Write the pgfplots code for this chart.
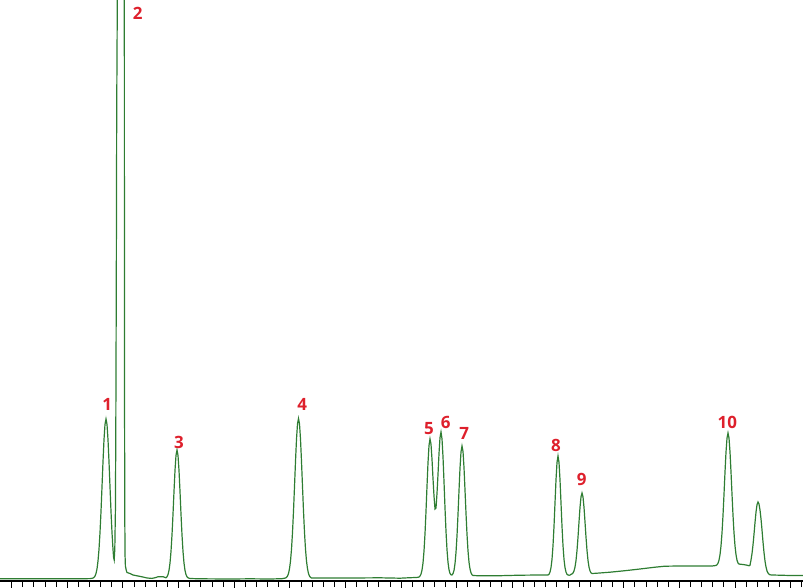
\documentclass[border=0pt]{standalone}
\usepackage{pgfplots}
\pgfplotsset{compat=1.18}
\usepackage{fontspec}
\setmainfont{Open Sans}
\definecolor{trace}{RGB}{46,125,50}
\definecolor{lab}{RGB}{222,32,44}
\begin{document}
\begin{tikzpicture}
\begin{axis}[
 scale only axis, width=803bp, height=581bp,
 at={(0,0)}, anchor=south west,
 xmin=0, xmax=803, ymin=0, ymax=581,
 axis x line=bottom, axis y line=none,
 x axis line style={-, line width=2bp, black},
 xtick={11.7,67.34,122.98,178.62,234.26,289.9,345.54,401.18,456.82,512.46,568.1,623.74,679.38,735.02,790.66},
 xticklabels={}, minor x tick num=4,
 tick align=outside, major tick length=7bp, minor tick length=6bp,
 tick style={black, line width=1bp},
 extra x ticks={801.8}, extra x tick labels={}, extra x tick style={major tick length=6bp},
 ytick=\empty,
 clip bounding box=upper bound,
]
\addplot[trace, line width=1.2bp, mark=none] coordinates {
(0,2.2) (20,2.2) (50,2.3) (80,2.2) (90,2.4) (92,2.7)
(93,3.0) (94,3.6) (95,4.9) (96,7.5) (97,12.1) (98,19.9) (99,31.7) (100,48.4) (101,69.6) (102,94.2) (103,119.3) (104,141.4) (105,156.6) (106,162)
(107,156.6) (108,141.4) (109,119.3) (110,94.2) (111,69.6) (112,48.4) (113,31.7) (113.6,23.5) (114.2,21) (114.8,32) (115.4,70) (115.8,150) (116.3,300) (116.7,470) (117.2,560) (117.3,640) (118,720) (120.5,760) (123,720) (124.3,640) (124.4,400) (124.6,150) (124.8,60) (125.1,24) (125.4,15) (126.2,11) (127,8.5) (130,7.5) (133,6) (138,5) (143,4) (147,3) (152,2.6) (156,3.5) (158,4.3) (163,4.3)
(166,3.2) (167,4.2) (168,6.4) (169,10.6) (170,17.9) (171,29.6) (172,46.1) (173,66.8) (174,89.6) (175,110.6) (176,125.6) (177,131) (178,125.6) (179,110.6) (180,89.6) (181,66.8) (182,46.1) (183,29.6) (184,17.9) (185,10.6) (186,6.4) (187,4.2) (188,3.2) (190,2.5)
(200,2.2) (230,2.0) (250,2.2) (270,2.0) (282,2.3)
(285.5,3.0) (286.5,3.6) (287.5,4.9) (288.5,7.5) (289.5,12.2) (290.5,19.9) (291.5,31.8) (292.5,48.5) (293.5,69.9) (294.5,94.5) (295.5,119.6) (296.5,141.9) (297.5,157.1) (298.5,162.5) (299.5,157.1) (300.5,141.9) (301.5,119.6) (302.5,94.5) (303.5,69.9) (304.5,48.5) (305.5,31.8) (306.5,19.9) (307.5,12.2) (308.5,7.5) (309.5,4.9) (310.5,3.6) (311.5,3.0)
(320,3.0) (350,3.0) (380,3.2) (400,2.8) (410,3.3) (416,3.5)
(418,3.7) (419,4.0) (420,4.9) (421,6.9) (422,10.8) (423,18.0) (424,29.9) (425,47.2) (426,69.7) (427,94.7) (428,118.3) (429,135.5) (430,142.1) (431,136.8) (432,121.8) (433,102.4) (434,84.9) (435,72) (436,73) (437,87.6) (438,106.6) (439,127.5) (440,143.4) (441,149.0) (442,142.2) (443,124.1) (444,99.3) (445,73.1) (446,49.5) (447,31.2) (448,18.7) (449,11.2) (450,7.5) (451,6.2) (452,6.0) (453,7.4) (454,10.5) (455,17.3) (456,28.6) (457,45.2) (458,66.6) (459,90.4) (460,112.9) (461,129.1) (462,135) (463,129.6) (464,113.4) (465,90.9) (466,67.6) (467,46.7) (468,30.1) (469,18.8) (470,12) (471,8.2) (472,6.3) (473,5.5)
(480,5.2) (500,5.3) (520,5.8) (540,6) (547,6)
(548,6.0) (549,6.8) (550,8.9) (551,13.4) (552,21.6) (553,35.3) (554,54.6) (555,78.0) (556,101.2) (557,118.5) (558,125) (559,118.5) (560,101.2) (561,78.0) (562,54.6) (563,35.3) (564,21.6) (565,13.4) (566,8.9) (567,6.8) (568,6.0) (569,5.8) (570,5.9)
(571,6.7) (572,7.1) (573,8.1) (574,10.1) (575,13.9) (576,20.5) (577,30.5) (578,43.8) (579,59.0) (580,73.6) (581,84.1) (582,88) (583,84.1) (584,73.6) (585,59.0) (586,43.8) (587,30.5) (588,20.5) (589,13.9) (590,10.1) (591,8.1) (592,7.5)
(597,7.8) (610,8.8) (625,10.3) (640,12) (655,13.8) (665,14.8) (680,15) (700,15) (712,15) (716,15.5)
(717,16.3) (718,17.8) (719,20.8) (720,26.3) (721,35.1) (722,48.1) (723,65.7) (724,86.7) (725,109.0) (726,129.0) (727,142.9) (728,148) (729,142.9) (730,129) (731,109) (732,86.7) (733,65.7) (734,48.1) (735,35.1) (736,26.3) (737,20.8) (738,18) (739,17) (740,16.8) (743,16.5) (746,16) (749,15.3) (750,15.8)
(751,21) (752,27.4) (753,36.1) (754,46.8) (755,58.4) (756,68.9) (757,76.3) (758,79) (759,77) (760,71) (761,62) (762,51) (763,39) (764,28.5) (765,20) (766,14) (767,10) (768,8) (769,6.8) (770,6.2) (772,6) (780,5.8) (790,5.5) (803,5.5)
};
\tikzset{lbl/.style={text=lab, font=\bfseries\fontsize{17}{20}\selectfont, anchor=base, inner sep=0pt}}
\node[lbl] at (axis cs:107.3,170) {1};
\node[lbl] at (axis cs:137.7,561) {2};
\node[lbl] at (axis cs:179,132.7) {3};
\node[lbl] at (axis cs:302.3,170) {4};
\node[lbl] at (axis cs:429,146.3) {5};
\node[lbl] at (axis cs:445.7,152.7) {6};
\node[lbl] at (axis cs:464.3,141) {7};
\node[lbl] at (axis cs:556,129.3) {8};
\node[lbl] at (axis cs:581.7,95) {9};
\node[lbl] at (axis cs:727.3,152.3) {10};
\end{axis}
\pgfresetboundingbox
\useasboundingbox (0,-7bp) rectangle (803bp,581bp);
\end{tikzpicture}
\end{document}
